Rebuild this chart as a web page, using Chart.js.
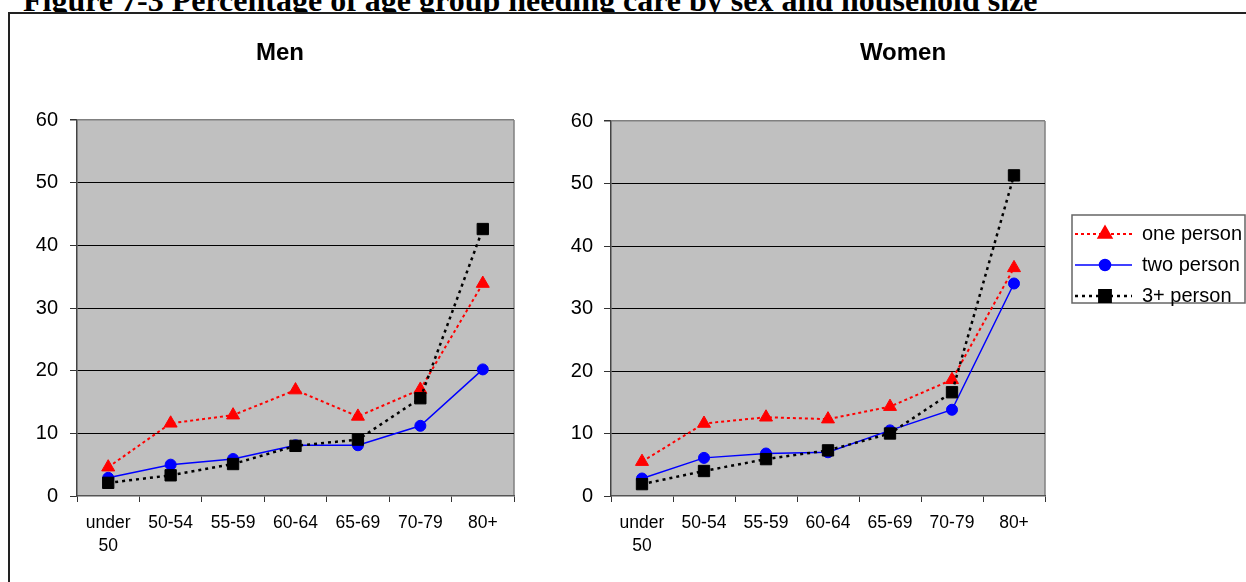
<!DOCTYPE html>
<html>
<head>
<meta charset="utf-8">
<title>Figure 7-3</title>
<script src="https://cdn.jsdelivr.net/npm/chart.js@4.4.1/dist/chart.umd.min.js"></script>
<style>
  html, body { margin: 0; padding: 0; background: #fff; }
  #page { position: relative; width: 1246px; height: 582px; overflow: hidden; }
  #fig-title {
    position: absolute; left: 23px; top: -16px;
    font: bold 32px/32px "Liberation Serif", "Times New Roman", serif;
    white-space: nowrap; color: #000;
  }
  #frame {
    position: absolute; left: 8px; top: 12px; width: 1300px; height: 640px;
    border-left: 2px solid #222; border-top: 2px solid #222; background: #fff;
  }
  canvas { position: absolute; top: 0; }
  #men { left: 0; }
  #women { left: 560px; }
</style>
</head>
<body>
<div id="page">
  <div id="fig-title">Figure 7-3 Percentage of age group needing care by sex and household size</div>
  <div id="frame"></div>
  <canvas id="men" width="560" height="582"></canvas>
  <canvas id="women" width="686" height="582"></canvas>
</div>
<script>
// Age groups on the category axis
const ageGroups = [['under', '50'], '50-54', '55-59', '60-64', '65-69', '70-79', '80+'];

// Series labels
const seriesLabels = ['one person', 'two person', '3+ person'];

// Percentage needing care, men
const menOnePerson   = [4.6, 11.6, 12.9, 16.9, 12.7, 17.0, 33.9];
const menTwoPerson   = [2.9, 5.0, 5.9, 8.1, 8.1, 11.2, 20.2];
const menThreePlus   = [2.1, 3.3, 5.1, 8.0, 9.0, 15.6, 42.6];

// Percentage needing care, women
const womenOnePerson = [5.5, 11.6, 12.6, 12.3, 14.3, 18.6, 36.5];
const womenTwoPerson = [2.8, 6.1, 6.8, 7.0, 10.5, 13.8, 34.0];
const womenThreePlus = [1.9, 4.0, 5.9, 7.3, 10.0, 16.6, 51.3];

// Value axis range
const yMin = 0, yMax = 60, yStep = 10;

const SANS = '"Liberation Sans", Arial, sans-serif';

const seriesStyles = [
  { borderColor: '#FF0000', backgroundColor: '#FF0000', borderWidth: 2,   borderDash: [3, 3],
    pointStyle: 'triangle', pointRadius: 7.5, order: 3 },
  { borderColor: '#0000FF', backgroundColor: '#0000FF', borderWidth: 1.5, borderDash: [],
    pointStyle: 'circle',   pointRadius: 5.5, order: 2 },
  { borderColor: '#000000', backgroundColor: '#000000', borderWidth: 2.5, borderDash: [3, 4],
    pointStyle: 'rect',     pointRadius: 8,   order: 1 }
];

// Grey plot area with a thin grey frame on the right
const plotBackground = {
  id: 'plotBackground',
  beforeDraw(chart, args, opts) {
    const { ctx, chartArea: a } = chart;
    ctx.save();
    ctx.fillStyle = opts.color;
    ctx.fillRect(a.left, a.top, a.width, a.height);
    ctx.strokeStyle = opts.borderColor;
    ctx.lineWidth = 1.5;
    ctx.beginPath();
    ctx.moveTo(a.right, a.top);
    ctx.lineTo(a.right, a.bottom);
    ctx.stroke();
    ctx.restore();
  }
};

// Boxed legend to the right of the plot, each entry shows line style and marker
const sideLegend = {
  id: 'sideLegend',
  afterDraw(chart, args, o) {
    if (!o.display) return;
    const { ctx, chartArea: a } = chart;
    const x0 = a.right + o.gap, y0 = o.top;
    ctx.save();
    ctx.fillStyle = '#fff';
    ctx.fillRect(x0, y0, o.width, o.height);
    ctx.strokeStyle = '#666';
    ctx.lineWidth = 1.5;
    ctx.setLineDash([]);
    ctx.strokeRect(x0, y0, o.width, o.height);
    chart.data.datasets.forEach((ds, i) => {
      const y = y0 + o.firstRow + i * o.rowStep;
      ctx.strokeStyle = ds.borderColor;
      ctx.lineWidth = ds.borderWidth;
      ctx.setLineDash(ds.borderDash);
      ctx.beginPath();
      ctx.moveTo(x0 + 3, y);
      ctx.lineTo(x0 + 60, y);
      ctx.stroke();
      ctx.setLineDash([]);
      ctx.fillStyle = ds.backgroundColor;
      ctx.strokeStyle = ds.borderColor;
      Chart.helpers.drawPoint(ctx, { pointStyle: ds.pointStyle, radius: ds.pointRadius, rotation: 0, borderWidth: 1 }, x0 + 33, y);
      ctx.fillStyle = '#000';
      ctx.font = '20px ' + SANS;
      ctx.textBaseline = 'middle';
      ctx.textAlign = 'left';
      ctx.fillText(ds.label, x0 + 70, y);
    });
    ctx.restore();
  }
};

function buildChart(canvasId, title, values, geo, showLegend) {
  const datasets = values.map((data, i) => Object.assign({
    label: seriesLabels[i],
    data: data,
    pointBorderWidth: 1,
    fill: false,
    tension: 0
  }, seriesStyles[i]));

  return new Chart(document.getElementById(canvasId), {
    type: 'line',
    data: { labels: ageGroups, datasets: datasets },
    plugins: [plotBackground, sideLegend],
    options: {
      responsive: false,
      animation: false,
      devicePixelRatio: 1,
      layout: { padding: 0 },
      plugins: {
        legend: { display: false },
        tooltip: { enabled: false },
        title: {
          display: true,
          text: title,
          color: '#000',
          font: { family: SANS, size: 24, weight: 'bold', lineHeight: 1.2 },
          padding: { top: 38.6, bottom: geo.titleGap }
        },
        plotBackground: { color: '#C0C0C0', borderColor: '#808080' },
        sideLegend: { display: showLegend, gap: 27, top: 215, width: 173, height: 88, firstRow: 19, rowStep: 31 }
      },
      scales: {
        x: {
          type: 'category',
          offset: true,
          grid: { offset: true, drawOnChartArea: false, tickLength: 6, tickColor: '#333', lineWidth: 1 },
          border: { color: '#555', width: 1.5 },
          ticks: { color: '#000', font: { family: SANS, size: 17.5, lineHeight: 1.35 }, padding: 9, maxRotation: 0, autoSkip: false },
          afterFit(s) { s.height = 86; }
        },
        y: {
          min: yMin, max: yMax,
          ticks: { stepSize: yStep, color: '#000', font: { family: SANS, size: 20 }, padding: geo.yPad },
          grid: {
            color: c => c.tick.value === yMax ? '#808080' : (c.tick.value === yMin ? 'rgba(0,0,0,0)' : '#000'),
            lineWidth: c => c.tick.value === yMax ? 1.5 : 1,
            tickLength: 7,
            tickColor: '#333'
          },
          border: { color: '#444', width: 1.5 },
          afterFit(s) { s.width = geo.yWidth; }
        },
        pad: {
          type: 'linear',
          position: 'right',
          grid: { display: false },
          border: { display: false },
          ticks: { display: false },
          afterFit(s) { s.width = geo.rightSpace; }
        }
      }
    }
  });
}

buildChart('men', 'Men', [menOnePerson, menTwoPerson, menThreePlus],
  { titleGap: 52.6, yWidth: 77, yPad: 12, rightSpace: 46 }, false);
buildChart('women', 'Women', [womenOnePerson, womenTwoPerson, womenThreePlus],
  { titleGap: 53.6, yWidth: 51, yPad: 11, rightSpace: 201 }, true);
</script>
</body>
</html>
